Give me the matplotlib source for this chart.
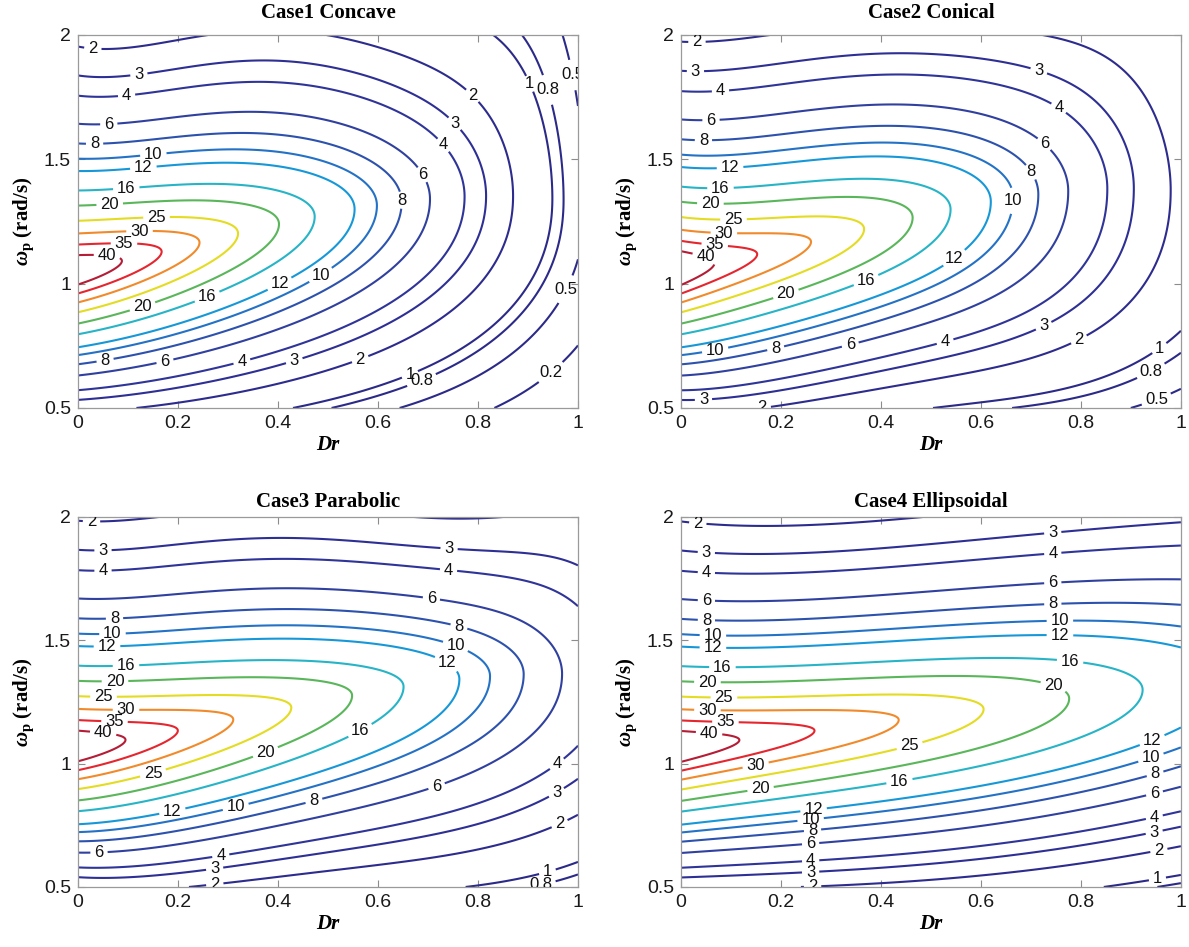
import numpy as np
import matplotlib
matplotlib.use('Agg')
import matplotlib.pyplot as plt

# contour levels and the colour used for each one
levels = [0.2, 0.5, 0.8, 1, 2, 3, 4, 6, 8, 10, 12, 16, 20, 25, 30, 35, 40]
level_colors = ['#2c2a88', '#2c2a88', '#2c2a88', '#2c2a88', '#2d2c8e', '#2e2f94',
                '#2f3499', '#30409f', '#2d52ad', '#2472c6', '#1698d8', '#27b4c6',
                '#5ab65a', '#e4dc22', '#f18a2a', '#e5262f', '#b51c36']

titles = ['Case1 Concave', 'Case2 Conical', 'Case3 Parabolic', 'Case4 Ellipsoidal']

# response at Dr = 0 (same for every shape): peak and where each level cuts the left edge
peak_value = 45.0
peak_w = 1.065
edge_levels = [2, 3, 4, 6, 8, 10, 12, 16, 20, 25, 30, 35, 40]
edge_w_upper = [1.98, 1.862, 1.778, 1.662, 1.585, 1.522, 1.475, 1.394, 1.331, 1.271, 1.217, 1.175, 1.132]
edge_w_lower = [0.49, 0.533, 0.576, 0.633, 0.683, 0.718, 0.754, 0.807, 0.851, 0.894, 0.934, 0.968, 1.0]

# ridge of each case: turning point (Dr, omega) of every closed contour level
ridge_level_1 = [40, 35, 30, 25, 20, 16, 12, 10, 8, 6, 4, 3, 2, 1, 0.8]
ridge_dr_1 = [0.08, 0.161, 0.243, 0.325, 0.409, 0.48, 0.545, 0.59, 0.645, 0.71, 0.775, 0.815, 0.87, 0.95, 0.97]
ridge_w_1 = [1.088, 1.108, 1.148, 1.2, 1.255, 1.29, 1.31, 1.32, 1.33, 1.33, 1.34, 1.34, 1.34, 1.35, 1.35]

ridge_level_2 = [40, 35, 30, 25, 20, 16, 12, 10, 8, 6, 4, 3, 2]
ridge_dr_2 = [0.079, 0.165, 0.262, 0.352, 0.453, 0.54, 0.62, 0.67, 0.725, 0.78, 0.84, 0.90, 0.985]
ridge_w_2 = [1.079, 1.125, 1.166, 1.213, 1.266, 1.30, 1.33, 1.35, 1.36, 1.37, 1.38, 1.38, 1.38]

ridge_level_3 = [40, 35, 30, 25, 20, 16, 12, 10, 8, 6]
ridge_dr_3 = [0.09, 0.2, 0.312, 0.43, 0.547, 0.648, 0.764, 0.823, 0.894, 0.967]
ridge_w_3 = [1.10, 1.135, 1.18, 1.222, 1.275, 1.315, 1.345, 1.355, 1.36, 1.365]

ridge_level_4 = [40, 35, 30, 25, 20, 16]
ridge_dr_4 = [0.114, 0.27, 0.436, 0.603, 0.778, 0.923]
ridge_w_4 = [1.10, 1.128, 1.18, 1.222, 1.262, 1.30]

# band shape per case: roundness at Dr = 1, widening (upper / lower) at Dr = 0.25, 0.5, 0.75, 1
roundness = [0.3, 0.3, 0.15, 0.2]
spread_up = [[0.94, 0.9, 0.93, 1.6], [0.96, 0.88, 0.92, 1.4],
             [0.97, 0.9, 0.86, 1.2], [0.936, 0.89, 0.86, 0.85]]
spread_lo = [[1.12, 1.2, 1.24, 1.25], [1.13, 1.2, 1.45, 1.7],
             [1.16, 1.27, 1.45, 1.6], [1.107, 1.16, 1.157, 1.1]]

ridge_levels = [ridge_level_1, ridge_level_2, ridge_level_3, ridge_level_4]
ridge_drs = [ridge_dr_1, ridge_dr_2, ridge_dr_3, ridge_dr_4]
ridge_ws = [ridge_w_1, ridge_w_2, ridge_w_3, ridge_w_4]

# contour labels: (level, Dr, omega)
label_spots = [
    [(2, .031, 1.979), (3, .12, 1.869), (4, .096, 1.782), (6, .061, 1.666), (8, .033, 1.585),
     (10, .15, 1.533), (12, .13, 1.482), (16, .096, 1.398), (20, .063, 1.335), (25, .157, 1.275),
     (30, .123, 1.221), (35, .092, 1.172), (40, .058, 1.114), (20, .127, .921), (16, .257, .954),
     (12, .401, 1.008), (10, .48, 1.052), (8, .641, 1.335), (6, .70, 1.452), (4, .756, 1.602),
     (3, .783, 1.702), (2, .821, 1.822), (1, .917, 1.816), (0.8, .944, 1.782), (0.5, .982, 1.836),
     (0.5, .959, .994), (0.2, .936, .667), (8, .054, .694), (6, .173, .696), (4, .326, .70),
     (3, .43, .707), (2, .56, .72), (1, .656, .674), (0.8, .68, .647)],
    [(2, .032, 1.979), (3, .029, 1.858), (4, .079, 1.778), (6, .06, 1.665), (8, .045, 1.585),
     (12, .098, 1.476), (16, .079, 1.392), (20, .059, 1.329), (25, .105, 1.266), (30, .086, 1.215),
     (35, .068, 1.166), (40, .049, 1.108), (20, .21, .958), (16, .368, 1.025), (12, .541, 1.119),
     (10, .665, 1.333), (8, .714, 1.467), (6, .744, 1.601), (4, .771, 1.755), (3, .722, 1.896),
     (10, .068, .737), (8, .189, .744), (6, .338, .76), (4, .526, .784), (3, .714, .878),
     (2, .782, .831), (1, .932, .811), (0.8, .917, .737), (0.5, .929, .65), (3, .045, .536),
     (2, .113, .503)],
    [(2, .027, 1.984), (3, .05, 1.864), (4, .05, 1.783), (8, .073, 1.59), (10, .069, 1.523),
     (12, .058, 1.476), (16, .096, 1.398), (20, .074, 1.332), (25, .051, 1.269), (30, .096, 1.222),
     (35, .073, 1.171), (40, .05, 1.118), (25, .15, .961), (20, .376, 1.041), (16, .564, 1.135),
     (12, .188, .814), (10, .315, .828), (8, .472, .848), (6, .714, .928), (4, .952, 1.015),
     (3, .952, .901), (2, .955, .794), (1, .929, .634), (0.8, .917, .58), (6, .042, .64),
     (4, .284, .647), (3, .272, .594), (2, .272, .54), (3, .744, 1.93), (4, .744, 1.844),
     (6, .71, 1.717), (8, .767, 1.596), (10, .76, 1.503), (12, .74, 1.416)],
    [(2, .034, 1.981), (3, .051, 1.864), (4, .051, 1.781), (6, .051, 1.666), (8, .051, 1.586),
     (10, .064, 1.527), (12, .064, 1.476), (16, .083, 1.398), (20, .053, 1.332), (25, .086, 1.273),
     (30, .053, 1.219), (35, .089, 1.171), (40, .056, 1.118), (30, .15, .988), (20, .159, .901),
     (25, .457, 1.075), (16, .436, .941), (12, .265, .818), (10, .259, .781), (8, .263, .734),
     (6, .259, .685), (4, .259, .62), (3, .259, .574), (2, .263, .516), (3, .744, 1.928),
     (4, .744, 1.844), (6, .744, 1.723), (8, .744, 1.636), (10, .758, 1.567), (12, .758, 1.513),
     (16, .778, 1.409), (20, .744, 1.309), (12, .94, 1.108), (10, .938, 1.037), (8, .947, .968),
     (6, .947, .881), (4, .947, .781), (3, .947, .717), (2, .956, .647), (1, .953, .533)],
]

# ---- build the response surfaces ----
EPS0 = 0.05
SPREAD_DR = [0.0, 0.25, 0.5, 0.75, 1.0]


def side_profile(w_edge):
    # decay exponent vs. log-frequency distance from the Dr = 0 peak
    u = np.abs(np.log(np.array(w_edge) / peak_w))
    f = np.log(peak_value / np.array(edge_levels, dtype=float))
    v = np.sqrt(u ** 2 + EPS0 ** 2) - EPS0
    coef, *_ = np.linalg.lstsq(np.c_[v, v ** 2], f, rcond=None)
    return coef


coef_up = side_profile(edge_w_upper)
coef_lo = side_profile(edge_w_lower)


def spread(dr, values):
    c = np.polyfit(SPREAD_DR, [1.0] + list(values), 4)
    return np.polyval(c, dr)


dr = np.linspace(0, 1, 401)
w = np.linspace(0.5, 2.0, 601)
DR, W = np.meshgrid(dr, w)


def surface(k):
    d = np.r_[0.0, ridge_drs[k]]
    zr = np.log(np.r_[peak_value, ridge_levels[k]])
    wr = np.r_[peak_w, ridge_ws[k]]
    cz = np.polyfit(d, zr, min(4, len(d) - 3))
    cw = np.polyfit(d, wr, 3)
    ridge_val = np.exp(np.polyval(cz, DR))
    ridge_w = np.polyval(cw, DR)
    u = np.log(W / ridge_w)
    eps = EPS0 + (roundness[k] - EPS0) * DR ** 2
    x = np.where(u > 0, u / spread(DR, spread_up[k]), -u / spread(DR, spread_lo[k]))
    v = np.sqrt(x ** 2 + eps ** 2) - eps
    f_up = coef_up[0] * v + coef_up[1] * v ** 2
    f_lo = coef_lo[0] * v + coef_lo[1] * v ** 2
    return ridge_val * np.exp(-np.where(u > 0, f_up, f_lo))


# ---- figure ----
plt.rcParams['font.family'] = ['Liberation Sans', 'DejaVu Sans']
plt.rcParams['mathtext.fontset'] = 'custom'
plt.rcParams['mathtext.rm'] = 'Liberation Serif:bold'
plt.rcParams['mathtext.it'] = 'Liberation Serif:italic:bold'
plt.rcParams['mathtext.bf'] = 'Liberation Serif:bold'

fig = plt.figure(figsize=(11.89, 9.47), dpi=100)
boxes = [[0.0656, 0.5692, 0.4205, 0.3939], [0.5727, 0.5692, 0.4205, 0.3939],
         [0.0656, 0.0634, 0.4205, 0.3907], [0.5727, 0.0634, 0.4205, 0.3907]]
title_pads = [12, 12, 7, 7]

for k in range(4):
    ax = fig.add_axes(boxes[k])
    Z = surface(k)

    # one contour set per level, so each label spot lands on its own line
    for lev, col in zip(levels, level_colors):
        if Z.min() >= lev or Z.max() <= lev:
            continue
        cs = ax.contour(DR, W, Z, levels=[lev], colors=[col], linewidths=1.5)
        spots = [(x, y) for (lv, x, y) in label_spots[k] if lv == lev]
        if spots:
            texts = ax.clabel(cs, inline=True, fmt='%g', fontsize=12,
                              inline_spacing=4, manual=spots)
            for t in texts:
                t.set_rotation(0)
                t.set_color('#111111')

    ax.set_xlim(0, 1)
    ax.set_ylim(0.5, 2)
    ax.set_xticks([0, 0.2, 0.4, 0.6, 0.8, 1])
    ax.set_xticklabels(['0', '0.2', '0.4', '0.6', '0.8', '1'])
    ax.set_yticks([0.5, 1, 1.5, 2])
    ax.set_yticklabels(['0.5', '1', '1.5', '2'])
    ax.tick_params(direction='in', length=5, width=0.8, top=True, right=True,
                   labelsize=14, colors='#8c8c8c', labelcolor='#1a1a1a', pad=5)
    for sp in ax.spines.values():
        sp.set_color('#9a9a9a')
        sp.set_linewidth(0.9)

    ax.set_title(titles[k], fontsize=15, fontweight='bold',
                 family='Liberation Serif', pad=title_pads[k])
    ax.set_xlabel('Dr', fontsize=15, fontweight='bold', fontstyle='italic',
                  family='Liberation Serif', labelpad=2)
    ax.set_ylabel(r'$\omega_{\rm p}$ (rad/s)', fontsize=15, fontweight='bold',
                  family='Liberation Serif', labelpad=6)

fig.savefig('out.png', dpi=100, facecolor='white')
